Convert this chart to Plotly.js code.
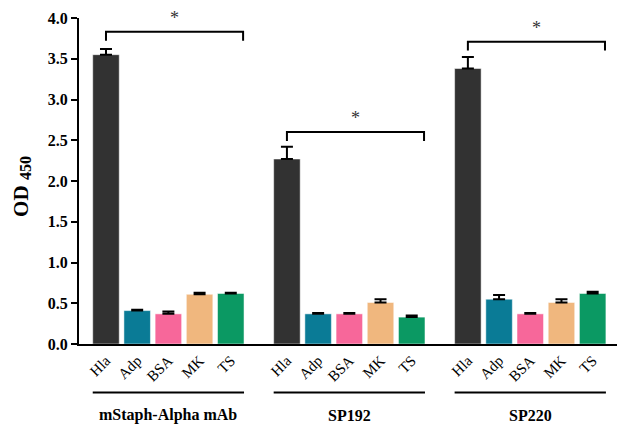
<!DOCTYPE html>
<html>
<head>
<meta charset="utf-8">
<script src="https://cdn.plot.ly/plotly-3.0.1.min.js"></script>
<style>body{margin:0;background:#fff}#chart{width:619px;height:424px}</style>
</head>
<body>
<div id="chart"></div>
<script>
// ---- data ----
const groups = ["mStaph-Alpha mAb", "SP192", "SP220"];
const categories = ["Hla", "Adp", "BSA", "MK", "TS"];
const colors = ["#323232", "#0a7b96", "#f7679a", "#f0b77e", "#0b9963"];
const valuesMAb = [3.55, 0.41, 0.37, 0.61, 0.62];
const valuesSP192 = [2.27, 0.37, 0.37, 0.51, 0.33];
const valuesSP220 = [3.38, 0.55, 0.37, 0.51, 0.62];
const errMAb = [0.07, 0.01, 0.03, 0.02, 0.01];
const errSP192 = [0.15, 0.01, 0.01, 0.04, 0.02];
const errSP220 = [0.14, 0.05, 0.01, 0.04, 0.02];
const bracketY = [3.83, 2.60, 3.71];
const yTickVals = [0, 0.5, 1, 1.5, 2, 2.5, 3, 3.5, 4];
const yTicks = ["0.0", "0.5", "1.0", "1.5", "2.0", "2.5", "3.0", "3.5", "4.0"];
const yTitleMain = "OD";
const yTitleSub = "450";

const values = [valuesMAb, valuesSP192, valuesSP220];
const errs = [errMAb, errSP192, errSP220];
const groupGap = 0.8;

const xs = [], ys = [], es = [], cs = [], tl = [];
const groupStart = [];
groups.forEach((g, gi) => {
  const start = gi * (categories.length + groupGap);
  groupStart.push(start);
  categories.forEach((c, ci) => {
    xs.push(start + ci);
    ys.push(values[gi][ci]);
    es.push(errs[gi][ci]);
    cs.push(colors[ci]);
    tl.push(c);
  });
});

const serif = "Liberation Serif, Times New Roman, serif";
const barW = 0.85;
const shapes = [], annotations = [];

groups.forEach((g, gi) => {
  const s = groupStart[gi];
  const e = s + categories.length - 1;
  shapes.push({type: "line", xref: "x", yref: "paper", x0: s - barW/2, x1: e + barW/2,
    y0: -0.149, y1: -0.149, line: {color: "#000", width: 2}});
  annotations.push({xref: "x", yref: "paper", x: (s + e) / 2, y: -0.218, text: g,
    showarrow: false, yanchor: "middle", font: {family: serif, size: 16, color: "#000", weight: "bold"}});
  const by = bracketY[gi];
  const tick = 0.11;
  const xr = e + barW/2 - 0.03;
  shapes.push({type: "path", xref: "x", yref: "y",
    path: `M ${s} ${by - tick} L ${s} ${by} L ${xr} ${by} L ${xr} ${by - tick}`,
    line: {color: "#000", width: 2}});
  annotations.push({xref: "x", yref: "y", x: (s + xr) / 2, y: by + 0.02, text: "*",
    showarrow: false, yanchor: "bottom", font: {family: serif, size: 18, color: "#333333"}});
});

// y-axis title: main text and subscript drawn as two rotated labels
annotations.push({xref: "paper", yref: "paper", x: 0, y: 0.439, xshift: -58, text: yTitleMain,
  textangle: -90, showarrow: false, xanchor: "center", yanchor: "middle",
  font: {family: serif, size: 21, color: "#000", weight: "bold"}});
annotations.push({xref: "paper", yref: "paper", x: 0, y: 0.540, xshift: -53, text: yTitleSub,
  textangle: -90, showarrow: false, xanchor: "center", yanchor: "middle",
  font: {family: serif, size: 16, color: "#000", weight: "bold"}});

const trace = {
  type: "bar", x: xs, y: ys, width: barW,
  marker: {color: cs, line: {color: "rgba(255,255,255,0.5)", width: 1}},
  error_y: {type: "data", array: es, arrayminus: es.map(() => 0), symmetric: false,
    color: "#000", thickness: 2, width: 6},
  hoverinfo: "skip"
};

const layout = {
  width: 619, height: 424,
  margin: {l: 79, r: 2, t: 18, b: 80},
  paper_bgcolor: "#fff", plot_bgcolor: "#fff",
  showlegend: false,
  bargap: 0,
  xaxis: {
    range: [-0.865, 16.38], tickmode: "array", tickvals: xs, ticktext: tl, tickangle: -45,
    showline: true, linecolor: "#000", linewidth: 2, ticks: "",
    showgrid: false, zeroline: false,
    tickfont: {family: serif, size: 15, color: "#000"}
  },
  yaxis: {
    range: [0, 4], tickmode: "array", tickvals: yTickVals, ticktext: yTicks,
    showline: true, linecolor: "#000", linewidth: 2, ticks: "outside", ticklen: 6, tickwidth: 2, tickcolor: "#000",
    showgrid: false, zeroline: false,
    tickfont: {family: serif, size: 16, color: "#000", weight: "bold"}
  },
  shapes: shapes,
  annotations: annotations
};

Plotly.newPlot("chart", [trace], layout, {displayModeBar: false, staticPlot: true});
</script>
</body>
</html>
